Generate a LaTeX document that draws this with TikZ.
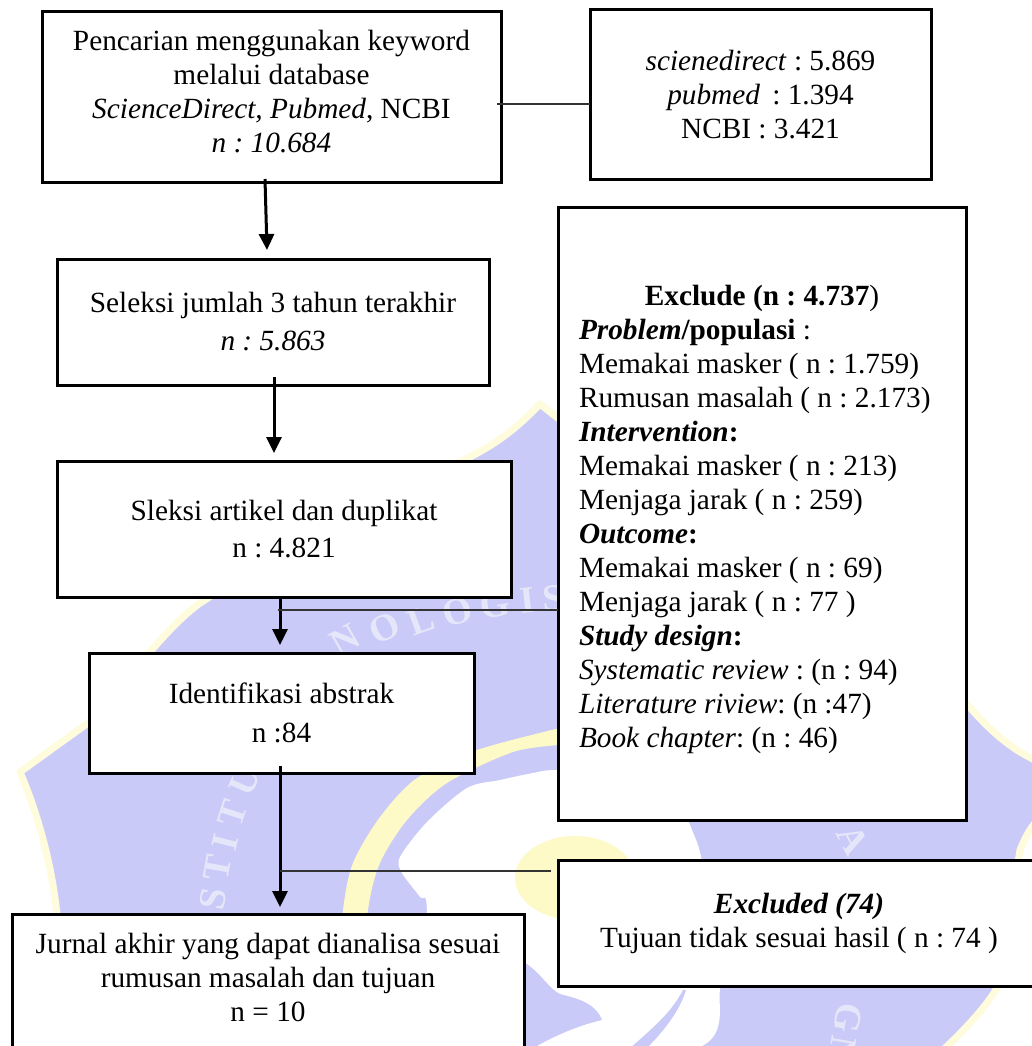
\documentclass[tikz,border=0pt]{standalone}
\usepackage{fontspec}
\setmainfont{Liberation Serif}
\usetikzlibrary{arrows.meta}
\definecolor{wmblue}{HTML}{C9CAF7}
\definecolor{wmyellow}{HTML}{FDFAC8}
\definecolor{wmedge}{HTML}{FEFCDC}
\definecolor{wmletter}{HTML}{E6E6FA}
\newcommand{\padb}[1]{\\[#1pt]\mbox{}}
\frenchspacing
\tikzset{
  flowbox/.style={draw=black,line width=3pt,fill=white,inner sep=0pt,outer sep=0pt,align=center,text=black,
    font=\fontsize{29.3}{34}\selectfont},
  flowarrow/.style={line width=3pt,-{Triangle[width=15pt,length=16pt]}},
  thinline/.style={line width=1.4pt,draw=black!80},
  wmtext/.style={text=wmletter,font=\fontsize{38}{38}\bfseries\selectfont,inner sep=0pt},
}
\begin{document}
\begin{tikzpicture}[x=1pt,y=-1pt]
\useasboundingbox (0,0) rectangle (1031,1046);
\fill[white] (0,0) rectangle (1031,1046);
% watermark
\fill[wmblue,draw=wmedge,line width=7pt,line join=round]
  (540,404) .. controls (515,430) and (495,445) .. (462,461)
  -- (300,540) -- (200,603) .. controls (180,618) and (165,635) .. (150,652)
  .. controls (130,680) and (110,705) .. (88,723) -- (20,772)
  .. controls (32,800) and (50,850) .. (57,914) -- (60,1050) -- (943,1050)
  .. controls (975,1020) and (990,1000) .. (997,988) -- (1020,850) .. controls (1026,835) and (1032,825) .. (1040,818)
  -- (1040,763) -- (1031,758) .. controls (1005,745) and (985,725) .. (966,703)
  -- (800,500) -- (600,450) .. controls (580,435) and (560,420) .. (540,404) -- cycle;
\fill[wmyellow] plot[smooth] coordinates {(335,1000) (343,910) (353,863) (380,817) (417,778) (477,750) (560,728)}
  -- plot[smooth] coordinates {(560,745) (513,752) (447,783) (407,820) (380,863) (368,910) (360,1000)} -- cycle;
\fill[white] plot[smooth cycle] coordinates {(400,857) (427,822) (467,788) (500,780) (533,773) (557,770) (640,772)
  (680,808) (692,830) (702,862) (712,950) (720,990) (690,1050) (427,1050) (427,910) (420,897) (402,873)};
\fill[wmyellow] (575,878) ellipse (60 and 42);
\fill[wmblue] (524,962) .. controls (540,972) and (550,990) .. (560,994)
  .. controls (575,998) and (595,1002) .. (602,1020)
  .. controls (580,1025) and (555,1035) .. (530,1050) -- (500,1050) -- cycle;
\fill[wmblue] (683,990) .. controls (670,1015) and (650,1030) .. (628,1050) -- (645,1050) .. controls (665,1030) and (680,1010) .. (686,990) -- cycle;
\node[wmtext,rotate=30] at (345,640) {N};
\node[wmtext,rotate=25] at (385,628) {O};
\node[wmtext,rotate=20] at (421,620) {L};
\node[wmtext,rotate=15] at (458,612) {O};
\node[wmtext,rotate=10] at (495,605) {G};
\node[wmtext,rotate=6] at (528,600) {I};
\node[wmtext,rotate=4] at (553,598) {S};
\node[wmtext,rotate=80] at (213,899) {S};
\node[wmtext,rotate=80] at (217,868) {T};
\node[wmtext,rotate=76] at (225,842) {I};
\node[wmtext,rotate=72] at (233,814) {T};
\node[wmtext,rotate=66] at (245,781) {U};
\node[wmtext,rotate=-62] at (853,840) {A};
\node[wmtext,rotate=-100] at (848,1018) {G};
\node[wmtext,rotate=-100] at (842,1050) {N};
% boxes
\node[flowbox,minimum width=459pt,minimum height=170pt] (search) at (271.5,97)
  {Pencarian menggunakan keyword\\melalui database\\\textit{ScienceDirect, Pubmed}, NCBI\\\textit{n : 10.684}\padb{-22}};
\node[flowbox,minimum width=341pt,minimum height=169pt] (sources) at (760.5,94.5)
  {\textit{scienedirect} : 5.869\\\textit{pubmed}\, : 1.394\\NCBI : 3.421};
\node[flowbox,minimum width=432pt,minimum height=126pt] (years) at (273,322)
  {Seleksi jumlah 3 tahun terakhir\\[4pt]\textit{n : 5.863}};
\node[flowbox,minimum width=454pt,minimum height=136pt] (dedup) at (284,529)
  {Sleksi artikel dan duplikat\\[3pt]n : 4.821};
\node[flowbox,minimum width=385pt,minimum height=120pt] (abstract) at (281.5,713)
  {Identifikasi abstrak\\[5pt]n :84};
\node[flowbox,minimum width=512pt,minimum height=146pt] (final) at (268,987)
  {Jurnal akhir yang dapat dianalisa sesuai\\rumusan masalah dan tujuan\\n = 10\padb{-14}};
\node[flowbox,minimum width=408pt,minimum height=613pt,text width=366pt,align=flush left] (exclude) at (762,513.5)
  {\mbox{}\\[-1pt]\makebox[366pt]{\textbf{Exclude (n : 4.737})}\\
   \textbf{\textit{Problem}/populasi} :\\
   Memakai masker ( n : 1.759)\\
   Rumusan masalah ( n : 2.173)\\
   \textbf{\textit{Intervention}:}\\
   Memakai masker ( n : 213)\\
   Menjaga jarak ( n : 259)\\
   \textbf{\textit{Outcome}:}\\
   Memakai masker ( n : 69)\\
   Menjaga jarak ( n : 77 )\\
   \textbf{\textit{Study design}:}\\
   \textit{Systematic review} : (n : 94)\\
   \textit{Literature riview}: (n :47)\\
   \textit{Book chapter}: (n : 46)};
\node[flowbox,minimum width=482pt,minimum height=126pt] (excluded) at (799,923)
  {\textbf{\textit{Excluded (74)}}\\Tujuan tidak sesuai hasil ( n : 74 )};
% connector ends
\coordinate (a1s) at (265,179);
\coordinate (a1e) at (267,250);
\coordinate (a2s) at (274,377);
\coordinate (a2e) at (274,453);
\coordinate (a3e) at (280,645);
\coordinate (a4s) at (280,766);
\coordinate (a4e) at (280,907);
\coordinate (t1s) at (497,104);
\coordinate (t3s) at (278,610);
\coordinate (t4s) at (280,871);
\coordinate (t4e) at (551,871);
\draw[flowarrow] (a1s) -- (a1e);
\draw[flowarrow] (a2s) -- (a2e);
\draw[flowarrow] (dedup.south -| a3e) -- (a3e);
\draw[flowarrow] (a4s) -- (a4e);
\draw[thinline] (t1s) -- (t1s -| sources.west);
\draw[thinline] (t3s) -- (t3s -| exclude.west);
\draw[thinline] (t4s) -- (t4e);
\end{tikzpicture}
\end{document}
